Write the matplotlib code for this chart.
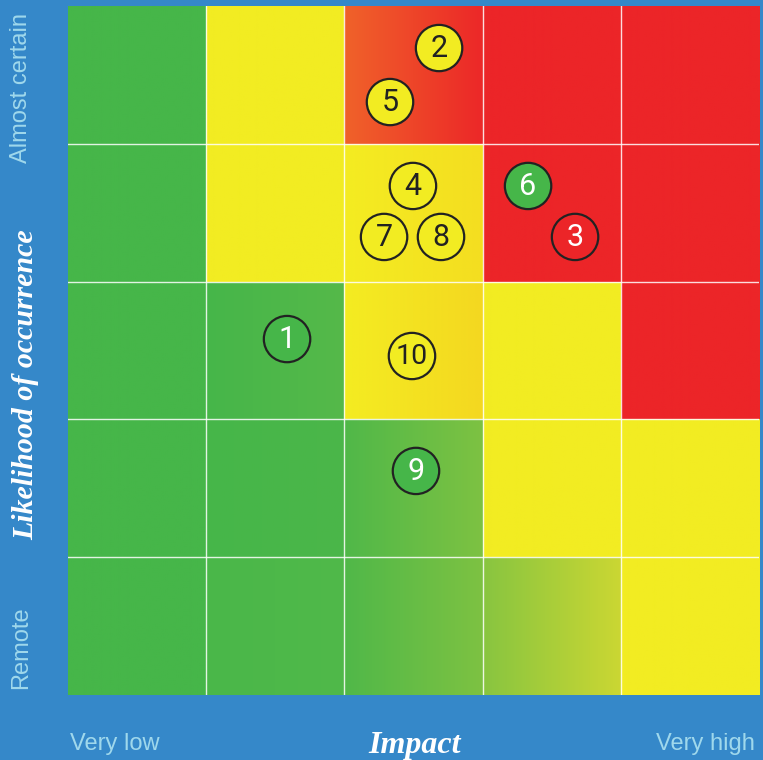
import numpy as np
import matplotlib.pyplot as plt
from matplotlib.colors import to_rgb
from matplotlib.patches import Circle

G = '#46B649'
Y = '#F2EC22'
R = '#EC2528'

# cell colours, bottom row first, each cell = (left colour, right colour)
row_remote = [(G, G), ('#4AB749', '#50B94A'), ('#50B849', '#7DC242'), ('#88C540', '#CBD733'), (Y, Y)]
row_unlikely = [(G, G), (G, '#4BB749'), ('#50B849', '#7DC242'), (Y, Y), (Y, Y)]
row_possible = [(G, G), (G, '#55B94A'), ('#F4EC22', '#F4D820'), (Y, Y), (R, R)]
row_likely = [(G, G), (Y, Y), ('#F4EC22', '#F4DE20'), (R, R), (R, R)]
row_certain = [(G, G), (Y, Y), ('#F0622A', '#EC2828'), (R, R), (R, R)]
rows = [row_remote, row_unlikely, row_possible, row_likely, row_certain]

# risks: number, impact position, likelihood position, colour
risk_ids = ['1', '2', '3', '4', '5', '6', '7', '8', '9', '10']
risk_x = [1.585, 2.685, 3.669, 2.496, 2.330, 3.329, 2.287, 2.699, 2.518, 2.489]
risk_y = [2.583, 4.695, 3.324, 3.694, 4.303, 3.694, 3.324, 3.324, 1.626, 2.460]
risk_col = [G, Y, R, Y, Y, G, Y, Y, G, Y]

x_labels = ['Very low', 'Very high']
y_labels = ['Remote', 'Almost certain']

bg = '#3588C9'
lab_col = '#9FD8EC'

fig = plt.figure(figsize=(7.63, 7.60), dpi=100)
fig.patch.set_facecolor(bg)
ax = fig.add_axes([68 / 763, 65 / 760, 691 / 763, 689 / 760])
ax.set_xlim(0, 5)
ax.set_ylim(0, 5)
ax.axis('off')

t = np.linspace(0, 1, 64)
for j, row in enumerate(rows):
    for i, (c0, c1) in enumerate(row):
        a = np.array(to_rgb(c0))
        b = np.array(to_rgb(c1))
        img = a[None, None, :] * (1 - t)[None, :, None] + b[None, None, :] * t[None, :, None]
        ax.imshow(img, extent=[i, i + 1, j, j + 1], aspect='auto', interpolation='bilinear', zorder=1)

for k in range(1, 5):
    ax.axvline(k, color='white', lw=1, alpha=0.85, zorder=2)
    ax.axhline(k, color='white', lw=1, alpha=0.85, zorder=2)

for n, x, y, c in zip(risk_ids, risk_x, risk_y, risk_col):
    ax.add_patch(Circle((x, y), 0.168, facecolor=c, edgecolor='#222222', lw=1.6, zorder=3))
    tc = 'white' if c != Y else '#222222'
    ax.text(x, y - 0.005, n, ha='center', va='center', fontsize=22 if len(n) == 1 else 20.5,
            color=tc, family='Roboto', zorder=4)

fig.text(115 / 763, 1 - 744 / 760, x_labels[0], ha='center', va='center', fontsize=17,
         color=lab_col, family='Liberation Sans')
fig.text(705 / 763, 1 - 744 / 760, x_labels[1], ha='center', va='center', fontsize=17,
         color=lab_col, family='Liberation Sans')
fig.text(415 / 763, 1 - 745 / 760, 'Impact', ha='center', va='center', fontsize=23,
         color='white', family='Liberation Serif', weight='bold', style='italic')

fig.text(21 / 763, 1 - 648 / 760, y_labels[0], ha='center', va='center', fontsize=17,
         color=lab_col, family='Liberation Sans', rotation=90)
fig.text(21 / 763, 1 - 88 / 760, y_labels[1], ha='center', va='center', fontsize=17,
         color=lab_col, family='Liberation Sans', rotation=90)
fig.text(26 / 763, 1 - 385 / 760, 'Likelihood of occurrence', ha='center', va='center', fontsize=21.5,
         color='white', family='Liberation Serif', weight='bold', style='italic', rotation=90)

fig.savefig('out.png', dpi=100, facecolor=bg)
